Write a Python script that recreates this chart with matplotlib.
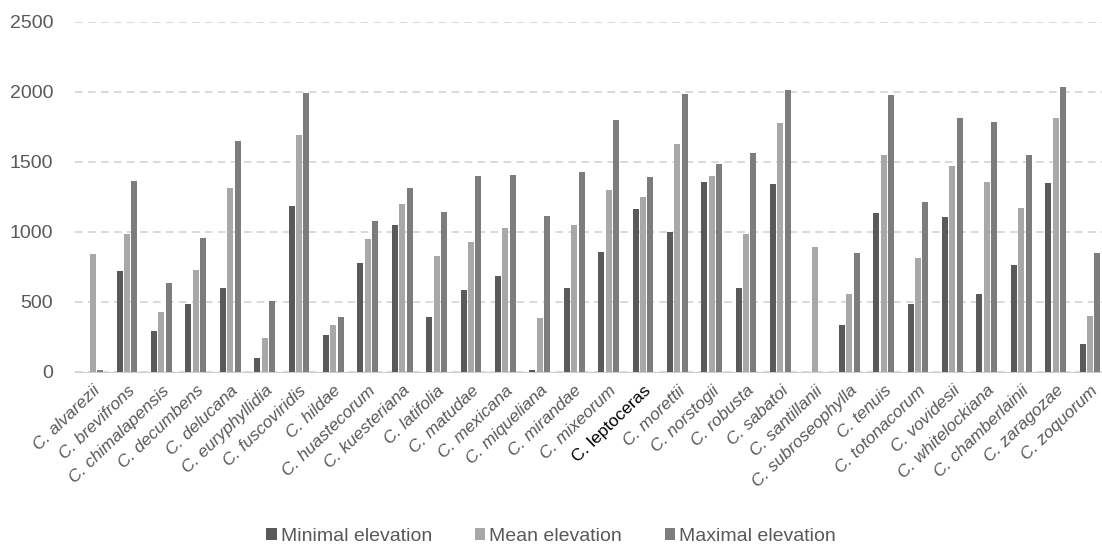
import numpy as np
import matplotlib.pyplot as plt

plt.rcParams['font.family'] = ['Liberation Sans', 'DejaVu Sans']

species = ["C. alvarezii", "C. brevifrons", "C. chimalapensis", "C. decumbens",
           "C. delucana", "C. euryphyllidia", "C. fuscoviridis", "C. hildae",
           "C. huastecorum", "C. kuesteriana", "C. latifolia", "C. matudae",
           "C. mexicana", "C. miqueliana", "C. mirandae", "C. mixeorum",
           "C. leptoceras", "C. morettii", "C. norstogii", "C. robusta",
           "C. sabatoi", "C. santillanii", "C. subroseophylla", "C. tenuis",
           "C. totonacorum", "C. vovidesii", "C. whitelockiana", "C. chamberlainii",
           "C. zaragozae", "C. zoquorum"]

min_elev = [0, 719, 290, 486, 602, 97, 1181, 261, 776, 1052, 390, 583, 683, 10,
            597, 859, 1166, 1000, 1354, 597, 1340, 0, 338, 1133, 486, 1104, 554,
            761, 1347, 197]
mean_elev = [845, 981, 426, 726, 1314, 245, 1695, 338, 950, 1197, 826, 924, 1024,
             388, 1052, 1297, 1250, 1626, 1402, 981, 1776, 895, 554, 1550, 812,
             1469, 1354, 1169, 1814, 397]
max_elev = [10, 1361, 636, 954, 1647, 507, 1995, 395, 1076, 1316, 1140, 1397, 1404,
            1116, 1428, 1802, 1395, 1988, 1486, 1561, 2014, 0, 852, 1976, 1212,
            1814, 1788, 1550, 2033, 852]

fig = plt.figure(figsize=(11.02, 5.46), dpi=100)
ax = fig.add_axes([0.0685, 0.319, 0.9315, 0.641])

x = np.arange(len(species))
w = 0.175
ax.bar(x - w - 0.04, min_elev, w, color="#5a5a5a", label="Minimal elevation", zorder=3)
ax.bar(x, mean_elev, w, color="#a8a8a8", label="Mean elevation", zorder=3)
ax.bar(x + w + 0.04, max_elev, w, color="#7d7d7d", label="Maximal elevation", zorder=3)

ax.set_ylim(0, 2500)
ax.set_xlim(-0.5, len(species) - 0.65)
ax.set_yticks([0, 500, 1000, 1500, 2000, 2500])
ax.yaxis.grid(True, linestyle=(0, (5, 3.5)), color="#cfcfcf", linewidth=1.1)
ax.set_axisbelow(True)
for s in ["top", "right", "left"]:
    ax.spines[s].set_visible(False)
ax.spines["bottom"].set_color("#cfcfcf")
ax.tick_params(axis="y", length=0, labelsize=14, labelcolor="#595959", pad=16)
ax.tick_params(axis="x", length=0, pad=8)

ax.set_xticks(x)
ax.set_xticklabels(species, rotation=44, ha="right", rotation_mode="anchor",
                   fontsize=12.5, color="#595959", style="italic")
for lab in ax.get_xticklabels():
    if lab.get_text() == "C. leptoceras":
        lab.set_style("normal")
        lab.set_color("black")

fig.legend(loc="lower center", bbox_to_anchor=(0.5, -0.03), ncol=3, frameon=False,
           fontsize=14, labelcolor="#595959", handlelength=0.55, handleheight=0.55,
           handletextpad=0.2, columnspacing=2.2)

fig.savefig("out.png", dpi=100)
